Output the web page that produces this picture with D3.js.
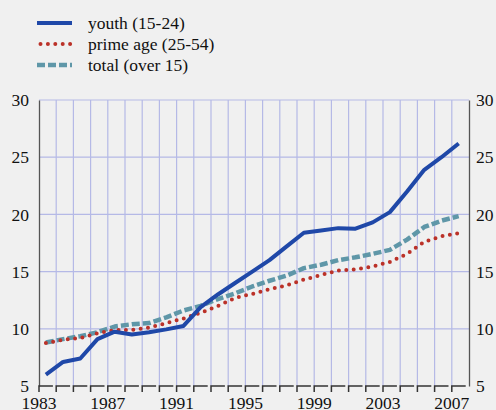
<!DOCTYPE html>
<html>
<head>
<meta charset="utf-8">
<script src="https://cdn.jsdelivr.net/npm/d3@7"></script>
<style>
  html, body { margin: 0; padding: 0; background: #f0f0f0; }
  svg text { font-family: "Liberation Serif", "DejaVu Serif", serif; }
</style>
</head>
<body>
<svg class="chart" width="496" height="410"></svg>
<script>
// data, 1983..2007
const years = d3.range(1983, 2008);
const youth = [6.0, 7.1, 7.4, 9.1, 9.75, 9.5, 9.7, 9.95, 10.25, 11.9, 13.0, 14.0, 15.0,
               16.0, 17.2, 18.4, 18.6, 18.8, 18.75, 19.3, 20.2, 22.0, 23.9, 25.0, 26.2];
const primeAge = [8.75, 9.05, 9.2, 9.6, 9.9, 9.9, 10.1, 10.5, 10.9, 11.4, 12.0, 12.7, 13.05,
                  13.45, 13.8, 14.3, 14.7, 15.1, 15.2, 15.45, 15.85, 16.55, 17.6, 18.1, 18.35];
const total = [8.8, 9.1, 9.35, 9.7, 10.2, 10.4, 10.5, 11.0, 11.6, 12.0, 12.6, 13.1, 13.7,
               14.2, 14.65, 15.3, 15.6, 16.0, 16.25, 16.55, 16.9, 17.8, 18.9, 19.45, 19.85];
const seriesNames = ['youth (15-24)', 'prime age (25-54)', 'total (over 15)'];
const yTicks = [5, 10, 15, 20, 25, 30];
const xLabels = [1983, 1987, 1991, 1995, 1999, 2003, 2007];

const FONT = '"Liberation Serif", "DejaVu Serif", serif';

const series = [
    { name: seriesNames[0], values: youth, color: '#1f48a8', width: 4, dash: null, cap: 'butt' },
    { name: seriesNames[1], values: primeAge, color: '#bb3128', width: 4, dash: '0 7.4', cap: 'round' },
    { name: seriesNames[2], values: total, color: '#5f97a8', width: 4.5, dash: '8 3', cap: 'butt' }
];

const margin = { top: 100, left: 39, right: 27, bottom: 24 };
const width = 496 - margin.left - margin.right;
const height = 410 - margin.top - margin.bottom;

const svg = d3.select('.chart');
const chart = svg.append('g')
    .attr('transform', `translate(${margin.left}, ${margin.top})`);

const xScale = d3.scaleLinear().domain([1983, 2008]).range([0, width]);
const yScale = d3.scaleLinear().domain([5, 30]).range([height, 0]);
const offset = 0.4; // points sit a little past each year line

// grid
chart.append('g')
    .selectAll('line')
    .data(yTicks.filter(d => d > 5))
    .enter().append('line')
    .attr('x1', 0).attr('x2', width)
    .attr('y1', d => yScale(d)).attr('y2', d => yScale(d))
    .attr('stroke', '#b5b9e6').attr('stroke-width', 1.2);

chart.append('g')
    .selectAll('line')
    .data(years.slice(1))
    .enter().append('line')
    .attr('x1', d => xScale(d)).attr('x2', d => xScale(d))
    .attr('y1', 0).attr('y2', height)
    .attr('stroke', '#b5b9e6').attr('stroke-width', 1.2);

// y axes, both sides
const left = chart.append('g')
    .call(d3.axisLeft(yScale).tickValues(yTicks).tickSize(0).tickPadding(10));
const right = chart.append('g')
    .attr('transform', `translate(${width}, 0)`)
    .call(d3.axisRight(yScale).tickValues(yTicks).tickSize(0).tickPadding(7));
[left, right].forEach(g => {
    g.attr('font-family', FONT);
    g.select('.domain').attr('stroke', '#555').attr('stroke-width', 1.3);
    g.selectAll('text')
        .attr('font-family', FONT)
        .attr('font-size', 17.5)
        .attr('fill', '#111');
});

// x axis: broken segments with ticks hanging down
const step = xScale(1984) - xScale(1983);
chart.append('g')
    .selectAll('path')
    .data(years)
    .enter().append('path')
    .attr('d', d => `M${xScale(d)},${height + 6}V${height}H${xScale(d) + step - 3.3}`)
    .attr('fill', 'none')
    .attr('stroke', '#333')
    .attr('stroke-width', 1.5);

chart.append('g')
    .selectAll('text')
    .data(xLabels)
    .enter().append('text')
    .attr('x', d => xScale(d))
    .attr('y', height + 23)
    .attr('text-anchor', 'middle')
    .attr('font-family', FONT)
    .attr('font-size', 17.5)
    .attr('fill', '#111')
    .text(d => d);

// lines
const line = d3.line()
    .x((d, i) => xScale(years[i] + offset))
    .y(d => yScale(d));

// draw total and prime first, youth on top
[series[2], series[1], series[0]].forEach(s => {
    chart.append('path')
        .datum(s.values)
        .attr('d', line)
        .attr('fill', 'none')
        .attr('stroke', s.color)
        .attr('stroke-width', s.width)
        .attr('stroke-linecap', s.cap)
        .attr('stroke-linejoin', 'round')
        .attr('stroke-dasharray', s.dash);
});

// legend
const legend = svg.append('g').attr('transform', 'translate(37, 23)');
series.forEach((s, i) => {
    const row = legend.append('g').attr('transform', `translate(0, ${i * 21})`);
    row.append('line')
        .attr('x1', s.cap === 'round' ? 3.5 : 0).attr('x2', 35)
        .attr('y1', 0).attr('y2', 0)
        .attr('stroke', s.color)
        .attr('stroke-width', s.width)
        .attr('stroke-linecap', s.cap)
        .attr('stroke-dasharray', s.dash);
    row.append('text')
        .attr('x', 51)
        .attr('y', 6)
        .attr('font-family', FONT)
        .attr('font-size', 17.5)
        .attr('fill', '#111')
        .text(s.name);
});
</script>
</body>
</html>
